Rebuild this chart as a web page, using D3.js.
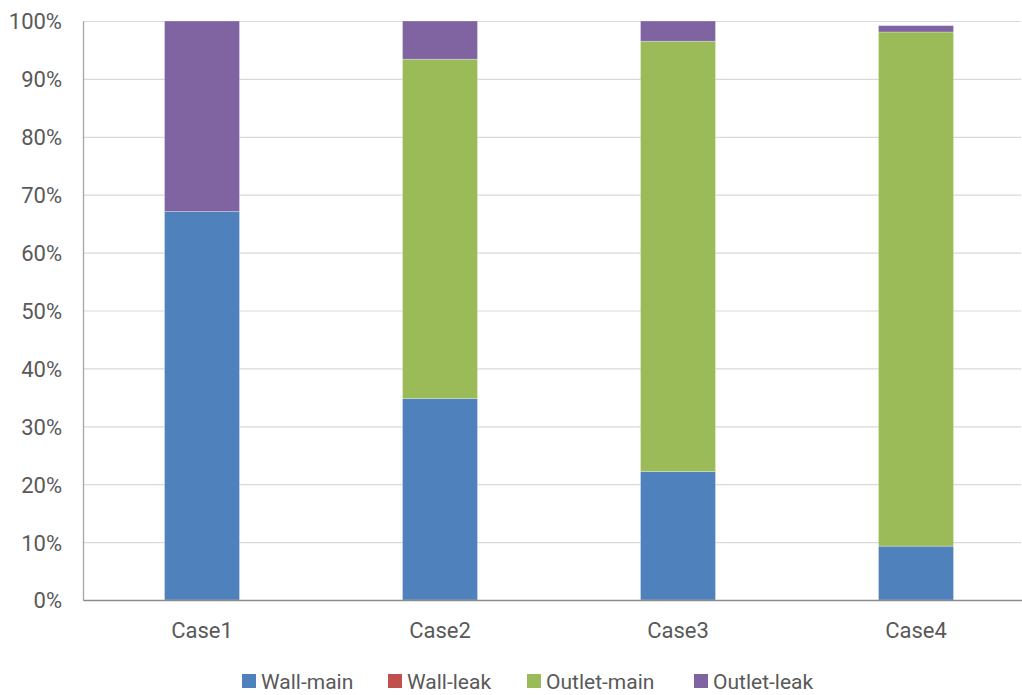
<!DOCTYPE html>
<html>
<head>
<meta charset="utf-8">
<script src="https://cdn.jsdelivr.net/npm/d3@7"></script>
<style>
  html, body { margin: 0; padding: 0; background: #fff; }
  svg { display: block; }
  text { font-family: Roboto, "Noto Sans", sans-serif; fill: #595959; }
</style>
</head>
<body>
<svg id="chart" width="1022" height="695"></svg>
<script>
// Share of particles by destination, per case (percent)
const categories = ["Case1", "Case2", "Case3", "Case4"];
const seriesNames = ["Wall-main", "Wall-leak", "Outlet-main", "Outlet-leak"];
const seriesColors = ["#4f81bd", "#c0504d", "#9bbb59", "#8064a2"];
const wallMain   = [67.1, 34.8, 22.2, 9.3];
const wallLeak   = [0, 0, 0, 0];
const outletMain = [0, 58.6, 74.3, 88.8];
const outletLeak = [32.9, 6.6, 3.5, 1.1];
const yTicks = [0, 10, 20, 30, 40, 50, 60, 70, 80, 90, 100];

const svg = d3.select("#chart");
const plotLeft = 83, plotTop = 21, plotBottom = 600, plotRight = 1035;

const rows = categories.map((c, i) => ({
  cat: c,
  "Wall-main": wallMain[i],
  "Wall-leak": wallLeak[i],
  "Outlet-main": outletMain[i],
  "Outlet-leak": outletLeak[i]
}));
const stacked = d3.stack().keys(seriesNames)(rows);

const x = d3.scaleBand().domain(categories).range([plotLeft, plotRight]).paddingInner(0.685).paddingOuter(0.3425);
const y = d3.scaleLinear().domain([0, 100]).range([plotBottom, plotTop]);
const color = d3.scaleOrdinal().domain(seriesNames).range(seriesColors);

// horizontal gridlines
svg.append("g")
  .selectAll("line")
  .data(yTicks.filter(t => t > 0))
  .join("line")
  .attr("x1", plotLeft).attr("x2", 1021)
  .attr("y1", d => y(d) + 0.5).attr("y2", d => y(d) + 0.5)
  .attr("stroke", "#d9d9d9").attr("stroke-width", 1.2);

// stacked bars
svg.append("g")
  .selectAll("g")
  .data(stacked)
  .join("g")
  .attr("fill", d => color(d.key))
  .selectAll("rect")
  .data(d => d)
  .join("rect")
  .attr("x", d => x(d.data.cat))
  .attr("width", x.bandwidth())
  .attr("y", d => y(d[1]))
  .attr("height", d => Math.max(0, y(d[0]) - y(d[1])))
  .attr("stroke", "rgba(255,255,255,0.35)")
  .attr("stroke-width", 0.75);

// y axis
const yAxis = svg.append("g")
  .attr("transform", `translate(${plotLeft},0)`)
  .call(d3.axisLeft(y).tickValues(yTicks).tickFormat(d => d + "%").tickSize(0).tickPadding(21));
yAxis.select(".domain").attr("stroke", "#a6a6a6").attr("stroke-width", 1.3);
yAxis.selectAll("text").style("font-size", "22px").attr("dy", "0.36em");

// x axis
const xAxis = svg.append("g")
  .attr("transform", `translate(0,${plotBottom})`)
  .call(d3.axisBottom(x).tickSize(0));
xAxis.select(".domain").attr("stroke", "#8c8c8c").attr("stroke-width", 1.5);
xAxis.selectAll("text").style("font-size", "22px").attr("y", 38).attr("dy", 0);

// legend
const legendX = [242, 388, 527, 694];
const legend = svg.append("g")
  .selectAll("g")
  .data(seriesNames)
  .join("g")
  .attr("transform", (d, i) => `translate(${legendX[i]},681)`);
legend.append("rect")
  .attr("x", 0).attr("y", -7).attr("width", 14).attr("height", 14)
  .attr("fill", d => color(d));
legend.append("text")
  .attr("x", 19).attr("dy", "0.36em")
  .style("font-size", "21px")
  .text(d => d);
</script>
</body>
</html>
